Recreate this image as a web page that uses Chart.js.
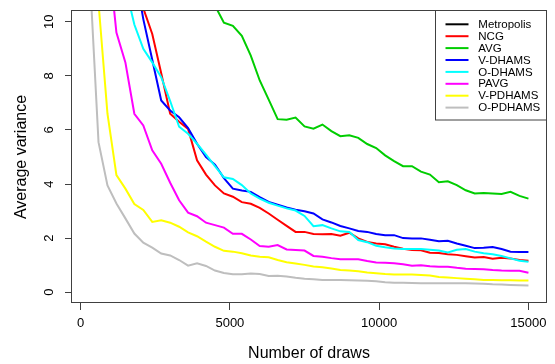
<!DOCTYPE html>
<html>
<head>
<meta charset="utf-8">
<script src="https://cdn.jsdelivr.net/npm/chart.js@4/dist/chart.umd.min.js"></script>
<style>
    html, body { margin: 0; padding: 0; background: #fff; }
    #chartBox { width: 555px; height: 364px; }
</style>
</head>
<body>
<div id="chartBox"><canvas id="chartArea"></canvas></div>
<script>
var draws = [300, 600, 900, 1200, 1500, 1800, 2100, 2400, 2700, 3000,
    3300, 3600, 3900, 4200, 4500, 4800, 5100, 5400, 5700, 6000,
    6300, 6600, 6900, 7200, 7500, 7800, 8100, 8400, 8700, 9000,
    9300, 9600, 9900, 10200, 10500, 10800, 11100, 11400, 11700, 12000,
    12300, 12600, 12900, 13200, 13500, 13800, 14100, 14400, 14700, 15000];

// Metropolis stays above the y limit, so it never shows inside the box
var metropolis = [95, 80, 68, 58, 50, 44, 39, 35, 32, 29.5,
    27.5, 26, 24.5, 23.2, 22, 21, 20.2, 19.5, 18.8, 18.2,
    17.7, 17.2, 16.8, 16.4, 16.1, 15.8, 15.5, 15.2, 15.0, 14.8,
    14.6, 14.4, 14.2, 14.0, 13.9, 13.8, 13.6, 13.5, 13.4, 13.3,
    13.2, 13.1, 13.0, 12.9, 12.8, 12.7, 12.6, 12.6, 12.5, 12.4];
var ncg = [40, 30, 22, 17, 14, 12, 10.5, 9.55, 8.1, 6.6,
    6.3, 6.04, 4.88, 4.35, 3.95, 3.65, 3.53, 3.33, 3.27, 3.12,
    2.91, 2.68, 2.45, 2.23, 2.23, 2.15, 2.14, 2.15, 2.09, 2.20,
    1.99, 1.86, 1.80, 1.77, 1.68, 1.61, 1.56, 1.55, 1.46, 1.45,
    1.40, 1.38, 1.33, 1.28, 1.30, 1.24, 1.27, 1.25, 1.19, 1.16];
var avg = [50, 43, 37, 32, 28, 25, 22, 20, 18, 16,
    14.5, 13.5, 12.5, 11.5, 10.6, 9.97, 9.85, 9.48, 8.75, 7.83,
    7.12, 6.40, 6.38, 6.46, 6.13, 6.05, 6.20, 5.96, 5.77, 5.80,
    5.71, 5.48, 5.33, 5.06, 4.85, 4.66, 4.66, 4.46, 4.35, 4.07,
    4.10, 3.96, 3.77, 3.65, 3.67, 3.65, 3.63, 3.71, 3.56, 3.46];
var vDhams = [45, 33, 24, 18, 14, 12, 10.1, 8.6, 7.09, 6.72,
    6.47, 6.07, 5.49, 5.0, 4.72, 4.22, 3.83, 3.76, 3.71, 3.52,
    3.34, 3.24, 3.13, 3.05, 2.99, 2.91, 2.69, 2.58, 2.45, 2.36,
    2.26, 2.23, 2.15, 2.11, 2.11, 2.00, 1.99, 1.99, 1.94, 1.88,
    1.90, 1.80, 1.72, 1.63, 1.64, 1.67, 1.60, 1.50, 1.49, 1.49];
var oDhams = [35, 25, 18, 14, 11.3, 9.9, 9.0, 8.5, 7.95, 7.07,
    6.12, 5.86, 5.49, 5.09, 4.66, 4.25, 4.19, 3.96, 3.65, 3.46,
    3.31, 3.20, 3.10, 3.02, 2.82, 2.44, 2.48, 2.36, 2.25, 2.23,
    1.93, 1.85, 1.72, 1.66, 1.62, 1.60, 1.60, 1.60, 1.57, 1.54,
    1.47, 1.57, 1.60, 1.50, 1.44, 1.40, 1.34, 1.25, 1.16, 1.13];
var pavg = [30, 20, 12.8, 9.6, 8.5, 6.6, 6.17, 5.25, 4.75, 4.05,
    3.40, 2.94, 2.81, 2.57, 2.48, 2.39, 2.16, 2.16, 1.95, 1.71,
    1.68, 1.74, 1.58, 1.56, 1.54, 1.34, 1.31, 1.26, 1.22, 1.22,
    1.22, 1.15, 1.10, 1.09, 1.07, 1.03, 0.98, 1.00, 0.96, 0.94,
    0.94, 0.90, 0.87, 0.86, 0.85, 0.82, 0.80, 0.79, 0.79, 0.72];
var vPdhams = [20, 10.7, 6.6, 4.33, 3.83, 3.26, 3.04, 2.60, 2.66, 2.57,
    2.42, 2.21, 2.07, 1.87, 1.68, 1.53, 1.50, 1.44, 1.36, 1.31,
    1.29, 1.19, 1.11, 1.06, 1.01, 0.95, 0.92, 0.88, 0.82, 0.80,
    0.77, 0.73, 0.70, 0.67, 0.65, 0.65, 0.65, 0.64, 0.62, 0.56,
    0.54, 0.52, 0.50, 0.48, 0.45, 0.45, 0.44, 0.44, 0.43, 0.43];
var oPdhams = [11.9, 5.55, 3.95, 3.28, 2.73, 2.17, 1.83, 1.65, 1.43, 1.36,
    1.19, 0.98, 1.07, 0.97, 0.80, 0.71, 0.66, 0.66, 0.69, 0.67,
    0.60, 0.61, 0.58, 0.53, 0.50, 0.48, 0.45, 0.45, 0.45, 0.44,
    0.43, 0.42, 0.40, 0.37, 0.35, 0.35, 0.34, 0.33, 0.33, 0.33,
    0.33, 0.33, 0.33, 0.32, 0.31, 0.29, 0.28, 0.27, 0.26, 0.25];

var seriesNames = ['Metropolis', 'NCG', 'AVG', 'V-DHAMS', 'O-DHAMS', 'PAVG', 'V-PDHAMS', 'O-PDHAMS'];
var seriesValues = [metropolis, ncg, avg, vDhams, oDhams, pavg, vPdhams, oPdhams];
var seriesColors = ['#000000', '#FF0000', '#00CD00', '#0000FF', '#00FFFF', '#FF00FF', '#FFFF00', '#BEBEBE'];
var xTicks = [0, 5000, 10000, 15000];
var yTicks = [0, 2, 4, 6, 8, 10];

var fontFamily = "'Liberation Sans', Arial, Helvetica, sans-serif";
var axisColor = '#404040';

function buildDatasets() {
    var sets = [];
    for (var i = 0; i < seriesNames.length; i++) {
        var pts = [];
        for (var j = 0; j < draws.length; j++) {
            pts.push({ x: draws[j], y: seriesValues[i][j] });
        }
        sets.push({
            label: seriesNames[i],
            data: pts,
            borderColor: seriesColors[i],
            backgroundColor: seriesColors[i],
            borderWidth: 2,
            pointRadius: 0,
            tension: 0,
            fill: false,
            order: seriesNames.length - i   // later series on top, like R
        });
    }
    return sets;
}

// box round the plot, rotated y labels and the legend
var rPlotStyle = {
    id: 'rPlotStyle',
    afterDraw: function (chart) {
        var ctx = chart.ctx;
        var area = chart.chartArea;
        var yScale = chart.scales.y;
        ctx.save();
        ctx.strokeStyle = axisColor;
        ctx.lineWidth = 1;
        ctx.strokeRect(area.left - 0.5, area.top - 0.5, area.right - area.left + 1, area.bottom - area.top);

        ctx.fillStyle = '#000';
        ctx.font = '13px ' + fontFamily;
        ctx.textAlign = 'center';
        ctx.textBaseline = 'middle';
        yScale.ticks.forEach(function (t) {
            var py = yScale.getPixelForValue(t.value);
            ctx.save();
            ctx.translate(area.left - 22.5, py);
            ctx.rotate(-Math.PI / 2);
            ctx.fillText(String(t.value), 0, 0);
            ctx.restore();
        });

        var boxW = 110, boxH = 109.5;
        var bx = area.right - boxW, by = area.top;
        ctx.fillStyle = '#fff';
        ctx.fillRect(bx, by, boxW, boxH);
        ctx.strokeRect(bx - 0.5, by - 0.5, boxW + 1, boxH);
        ctx.font = '11.5px ' + fontFamily;
        ctx.textAlign = 'left';
        chart.data.datasets.forEach(function (ds, k) {
            var ly = by + 13.3 + k * 11.9;
            ctx.strokeStyle = ds.borderColor;
            ctx.lineWidth = 2;
            ctx.beginPath();
            ctx.moveTo(bx + 9.5, ly);
            ctx.lineTo(bx + 32.5, ly);
            ctx.stroke();
            ctx.fillStyle = '#000';
            ctx.fillText(ds.label, bx + 42.3, ly + 0.5);
        });
        ctx.restore();
    }
};

var ctx = document.getElementById('chartArea').getContext('2d');
var myNewChart = new Chart(ctx, {
    type: 'line',
    data: { datasets: buildDatasets() },
    options: {
        responsive: true,
        maintainAspectRatio: false,
        animation: false,
        events: [],
        layout: { padding: { top: 11, right: 9, left: 0, bottom: 0 } },
        plugins: {
            legend: { display: false },
            tooltip: { enabled: false }
        },
        scales: {
            x: {
                type: 'linear',
                min: -288,
                max: 15588,
                afterBuildTicks: function (scale) {
                    scale.ticks = xTicks.map(function (v) { return { value: v }; });
                },
                afterFit: function (scale) { scale.height = 61; },
                grid: { drawOnChartArea: false, drawTicks: true, tickLength: 7, color: axisColor },
                border: { display: false },
                ticks: {
                    autoSkip: false,
                    maxRotation: 0,
                    padding: 6,
                    color: '#000',
                    font: { family: fontFamily, size: 13 },
                    callback: function (v) { return String(v); }
                },
                title: {
                    display: true,
                    text: 'Number of draws',
                    color: '#000',
                    font: { family: fontFamily, size: 16 },
                    padding: { top: 0, bottom: 1 }
                }
            },
            y: {
                type: 'linear',
                min: -0.4,
                max: 10.4,
                afterBuildTicks: function (scale) {
                    scale.ticks = yTicks.map(function (v) { return { value: v }; });
                },
                afterFit: function (scale) { scale.width = 72; },
                grid: { drawOnChartArea: false, drawTicks: true, tickLength: 7, color: axisColor },
                border: { display: false },
                ticks: { display: false },
                title: {
                    display: true,
                    text: 'Average variance',
                    color: '#000',
                    font: { family: fontFamily, size: 16 },
                    padding: { top: 12, bottom: 0 }
                }
            }
        }
    },
    plugins: [rPlotStyle]
});
</script>
</body>
</html>
